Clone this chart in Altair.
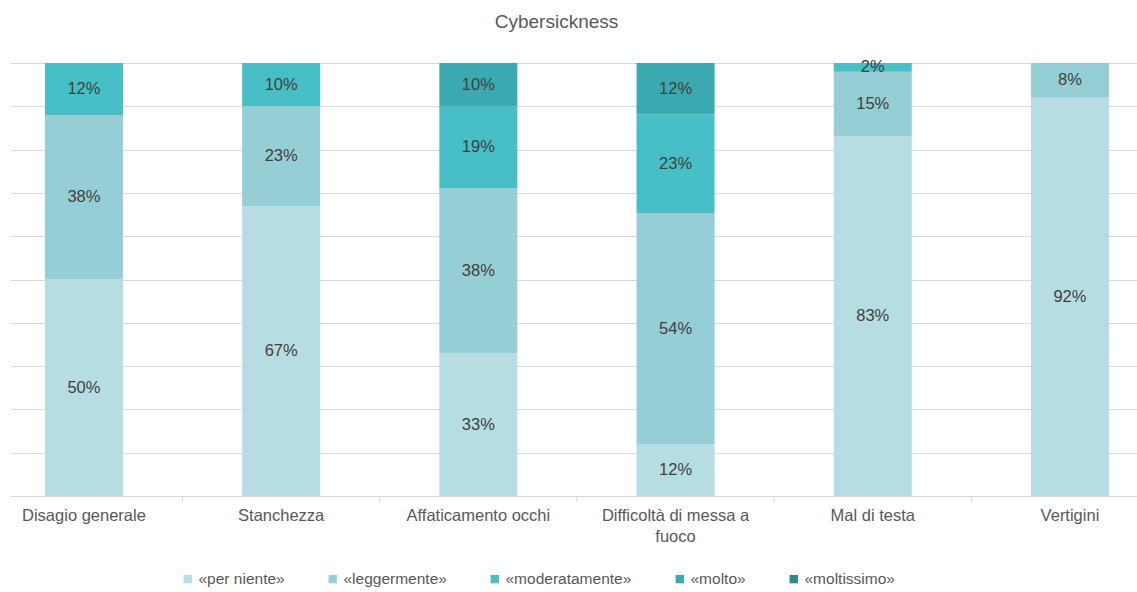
import altair as alt
import pandas as pd

categories = ["Disagio generale", "Stanchezza", "Affaticamento occhi",
              "Difficoltà di messa a fuoco", "Mal di testa", "Vertigini"]
cat_labels = ["Disagio generale", "Stanchezza", "Affaticamento occhi",
              "Difficoltà di messa a\nfuoco", "Mal di testa", "Vertigini"]
levels = ["«per niente»", "«leggermente»", "«moderatamente»", "«molto»", "«moltissimo»"]
colors = ["#b6dee2", "#95ced5", "#48bec6", "#3aa9b0", "#2b8b90"]

per_niente    = [50, 67, 33, 12, 83, 92]
leggermente   = [38, 23, 38, 54, 15, 8]
moderatamente = [12, 10, 19, 23, 2, 0]
molto         = [0, 0, 10, 12, 0, 0]
moltissimo    = [0, 0, 0, 0, 0, 0]

series = [per_niente, leggermente, moderatamente, molto, moltissimo]
rows = []
for li, (lev, vals) in enumerate(zip(levels, series)):
    for ci, v in enumerate(vals):
        if v > 0:
            rows.append({"idx": ci, "cat": categories[ci], "level": lev,
                         "ord": li, "value": v, "label": f"{v}%"})
df = pd.DataFrame(rows)
cats_df = pd.DataFrame({"idx": list(range(len(categories))), "name": cat_labels})
bounds_df = pd.DataFrame({"b": [i + 0.5 for i in range(len(categories) - 1)]})

W, H = 1127, 433
xscale = alt.Scale(domain=[-0.375, 5.34], nice=False, zero=False, padding=0)
yscale = alt.Scale(domain=[0, 1], nice=False)

base = alt.Chart(df).transform_joinaggregate(
    total="sum(value)", groupby=["cat"]
).transform_window(
    cum="sum(value)", groupby=["cat"], sort=[alt.SortField("ord", order="ascending")],
    frame=[None, 0]
).transform_calculate(
    y0="(datum.cum - datum.value) / datum.total",
    y1="datum.cum / datum.total",
    mid="(datum.cum - datum.value / 2) / datum.total",
)

bars = base.mark_bar(size=78).encode(
    x=alt.X("idx:Q", scale=xscale, axis=None),
    y=alt.Y("y0:Q", scale=yscale,
            axis=alt.Axis(values=[i / 10 for i in range(11)], labels=False, ticks=False,
                          domain=False, grid=True, gridColor="#d9d9d9", gridWidth=1,
                          gridOpacity=1, title=None)),
    y2="y1:Q",
    color=alt.Color("level:N", scale=alt.Scale(domain=levels, range=colors),
                    legend=alt.Legend(title=None, orient="none", direction="horizontal",
                                      legendX=170, legendY=508, symbolType="square",
                                      symbolSize=70, symbolStrokeWidth=0,
                                      labelFont="Liberation Sans", labelFontSize=15.5,
                                      labelColor="#595959", columnPadding=40,
                                      labelOffset=3)),
)

texts = base.mark_text(font="Liberation Sans", fontSize=16.5, color="#404040").encode(
    x=alt.X("idx:Q", scale=xscale),
    y=alt.Y("mid:Q", scale=yscale),
    text="label:N",
)

xlabels = alt.Chart(cats_df).mark_text(
    font="Liberation Sans", fontSize=16.5, color="#595959", baseline="top",
    lineBreak="\n", lineHeight=21
).encode(
    x=alt.X("idx:Q", scale=xscale),
    y=alt.value(H + 12),
    text="name:N",
)

ticks = alt.Chart(bounds_df).mark_rule(color="#d9d9d9", strokeWidth=1).encode(
    x=alt.X("b:Q", scale=xscale),
    y=alt.value(H),
    y2=alt.value(H + 6),
)

chart = alt.layer(bars, ticks, texts, xlabels).resolve_axis(
    x="shared", y="shared"
).properties(
    width=W, height=H,
    title=alt.TitleParams("Cybersickness", font="Liberation Sans", fontSize=19,
                          fontWeight="normal", color="#595959", offset=27, dx=-17),
    padding={"left": 10, "top": 63, "right": 0, "bottom": 96},
    autosize=alt.AutoSizeParams(type="none"),
).configure(
    background="white",
    view=alt.ViewConfig(strokeWidth=0),
)

chart.save("out.html", embed_options={"renderer": "svg", "actions": False})
